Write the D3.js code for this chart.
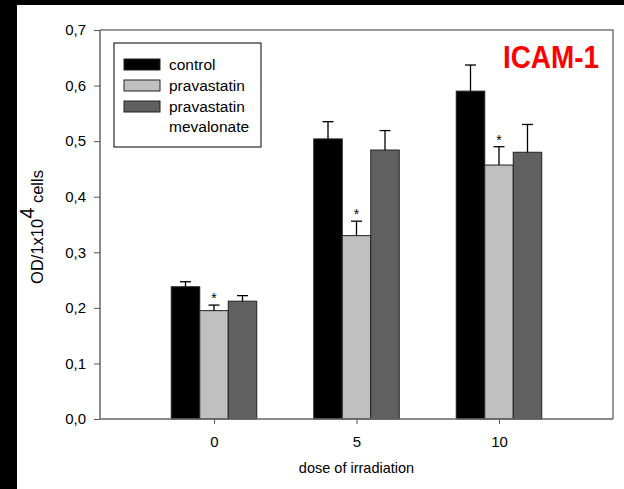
<!DOCTYPE html>
<html>
<head>
<meta charset="utf-8">
<script src="https://cdn.jsdelivr.net/npm/d3@7"></script>
<style>
  html, body { margin: 0; padding: 0; background: #fff; }
  svg { display: block; font-family: "Liberation Sans", Arial, sans-serif; }
</style>
</head>
<body>
<svg id="chart" width="624" height="489"></svg>
<script>
// data
var doses = [0, 5, 10];
var seriesNames = ["control", "pravastatin", "pravastatin mevalonate"];
var control = [0.238, 0.504, 0.590];
var controlErr = [0.009, 0.031, 0.047];
var prava = [0.195, 0.330, 0.457];
var pravaErr = [0.010, 0.026, 0.033];
var pravaMev = [0.212, 0.484, 0.480];
var pravaMevErr = [0.010, 0.035, 0.050];
var starred = [false, true, false];
var yTicks = [0, 0.1, 0.2, 0.3, 0.4, 0.5, 0.6, 0.7];

var fills = ["#000000", "#c0c0c0", "#606060"];

var svg = d3.select("#chart");
var plotL = 100, plotR = 613, plotT = 30, plotB = 419;

// black scan border on the left and top
svg.append("rect").attr("x", 0).attr("y", 0).attr("width", 17).attr("height", 489).attr("fill", "#000");
svg.append("rect").attr("x", 0).attr("y", 0).attr("width", 624).attr("height", 5).attr("fill", "#000");

var x = d3.scaleLinear().domain([-4, 14]).range([plotL, plotR]);
var y = d3.scaleLinear().domain([0, 0.7]).range([plotB, plotT]);
var unit = x(1) - x(0);

var all = [control, prava, pravaMev];
var errs = [controlErr, pravaErr, pravaMevErr];
var rows = [];
all.forEach(function(vals, s) {
	vals.forEach(function(v, i) {
		rows.push({s: s, dose: doses[i], v: v, e: errs[s][i]});
	});
});

// frame top / right
svg.append("path")
	.attr("d", "M" + plotL + "," + plotT + "H" + plotR + "V" + plotB)
	.attr("fill", "none").attr("stroke", "#777").attr("stroke-width", 1.5);

// bars
svg.selectAll(".bar").data(rows).enter().append("rect")
	.attr("class", "bar")
	.attr("x", function(d) { return x(d.dose + d.s - 1.5); })
	.attr("width", unit)
	.attr("y", function(d) { return y(d.v); })
	.attr("height", function(d) { return y(0) - y(d.v); })
	.attr("fill", function(d) { return fills[d.s]; })
	.attr("stroke", "#222").attr("stroke-width", 1);

// error bars (upper only)
var eb = svg.selectAll(".err").data(rows).enter().append("g").attr("class", "err");
eb.append("line")
	.attr("x1", function(d) { return x(d.dose + d.s - 1); })
	.attr("x2", function(d) { return x(d.dose + d.s - 1); })
	.attr("y1", function(d) { return y(d.v); })
	.attr("y2", function(d) { return y(d.v + d.e); })
	.attr("stroke", "#000").attr("stroke-width", 1.3);
eb.append("line")
	.attr("x1", function(d) { return x(d.dose + d.s - 1) - 5.5; })
	.attr("x2", function(d) { return x(d.dose + d.s - 1) + 5.5; })
	.attr("y1", function(d) { return y(d.v + d.e); })
	.attr("y2", function(d) { return y(d.v + d.e); })
	.attr("stroke", "#000").attr("stroke-width", 1.3);

// significance stars
svg.selectAll(".star").data(rows.filter(function(d) { return starred[d.s]; })).enter().append("text")
	.attr("class", "star")
	.attr("x", function(d) { return x(d.dose + d.s - 1); })
	.attr("y", function(d) { return y(d.v + d.e) - 2; })
	.attr("text-anchor", "middle")
	.attr("font-size", 14)
	.text("*");

// axes
var yAxis = svg.append("g").attr("transform", "translate(" + plotL + ",0)")
	.call(d3.axisLeft(y).tickValues(yTicks).tickSize(6).tickPadding(8)
		.tickFormat(function(d) { return d3.format(".1f")(d).replace(".", ","); }));
var xAxis = svg.append("g").attr("transform", "translate(0," + plotB + ")")
	.call(d3.axisBottom(x).tickValues(doses).tickSize(5).tickPadding(12));
[yAxis, xAxis].forEach(function(ax) {
	ax.select(".domain").attr("stroke", "#666").attr("stroke-width", 1.5);
	ax.selectAll(".tick line").attr("stroke", "#555");
	ax.selectAll(".tick text").attr("font-size", 15).attr("fill", "#000")
		.attr("font-family", "Liberation Sans, Arial, sans-serif");
});
yAxis.select(".domain").attr("d", "M0," + plotT + "V" + plotB);
xAxis.select(".domain").attr("d", "M" + plotL + ",0H" + plotR);

// axis titles
svg.append("text")
	.attr("x", x(5)).attr("y", 473)
	.attr("text-anchor", "middle").attr("font-size", 14.5)
	.text("dose of irradiation");

var yt = svg.append("text")
	.attr("transform", "translate(43,227) rotate(-90)")
	.attr("text-anchor", "middle").attr("font-size", 16.5);
yt.append("tspan").text("OD/1x10");
yt.append("tspan").attr("dy", -9).attr("font-size", 20).text("4");
yt.append("tspan").attr("dy", 9).text(" cells");

// legend
var lg = svg.append("g").attr("transform", "translate(114,43)");
lg.append("rect").attr("width", 147).attr("height", 104)
	.attr("fill", "#fff").attr("stroke", "#000").attr("stroke-width", 1);
var li = lg.selectAll(".li").data(seriesNames).enter().append("g")
	.attr("transform", function(d, i) { return "translate(10," + (16 + i * 21) + ")"; });
li.append("rect").attr("width", 36).attr("height", 11)
	.attr("fill", function(d, i) { return fills[i]; })
	.attr("stroke", "#222").attr("stroke-width", 1);
li.append("text").attr("x", 45).attr("y", 11).attr("font-size", 15.5)
	.each(function(d) {
		var t = d3.select(this);
		d.split(" ").forEach(function(w, k) {
			t.append("tspan").attr("x", 45).attr("dy", k ? 19.5 : 0).text(w);
		});
	});

// title
svg.append("text")
	.attr("x", 503).attr("y", 68)
	.attr("font-size", 32).attr("font-weight", "bold")
	.attr("fill", "#ff0000")
	.attr("textLength", 96).attr("lengthAdjust", "spacingAndGlyphs")
	.text("ICAM-1");
</script>
</body>
</html>
